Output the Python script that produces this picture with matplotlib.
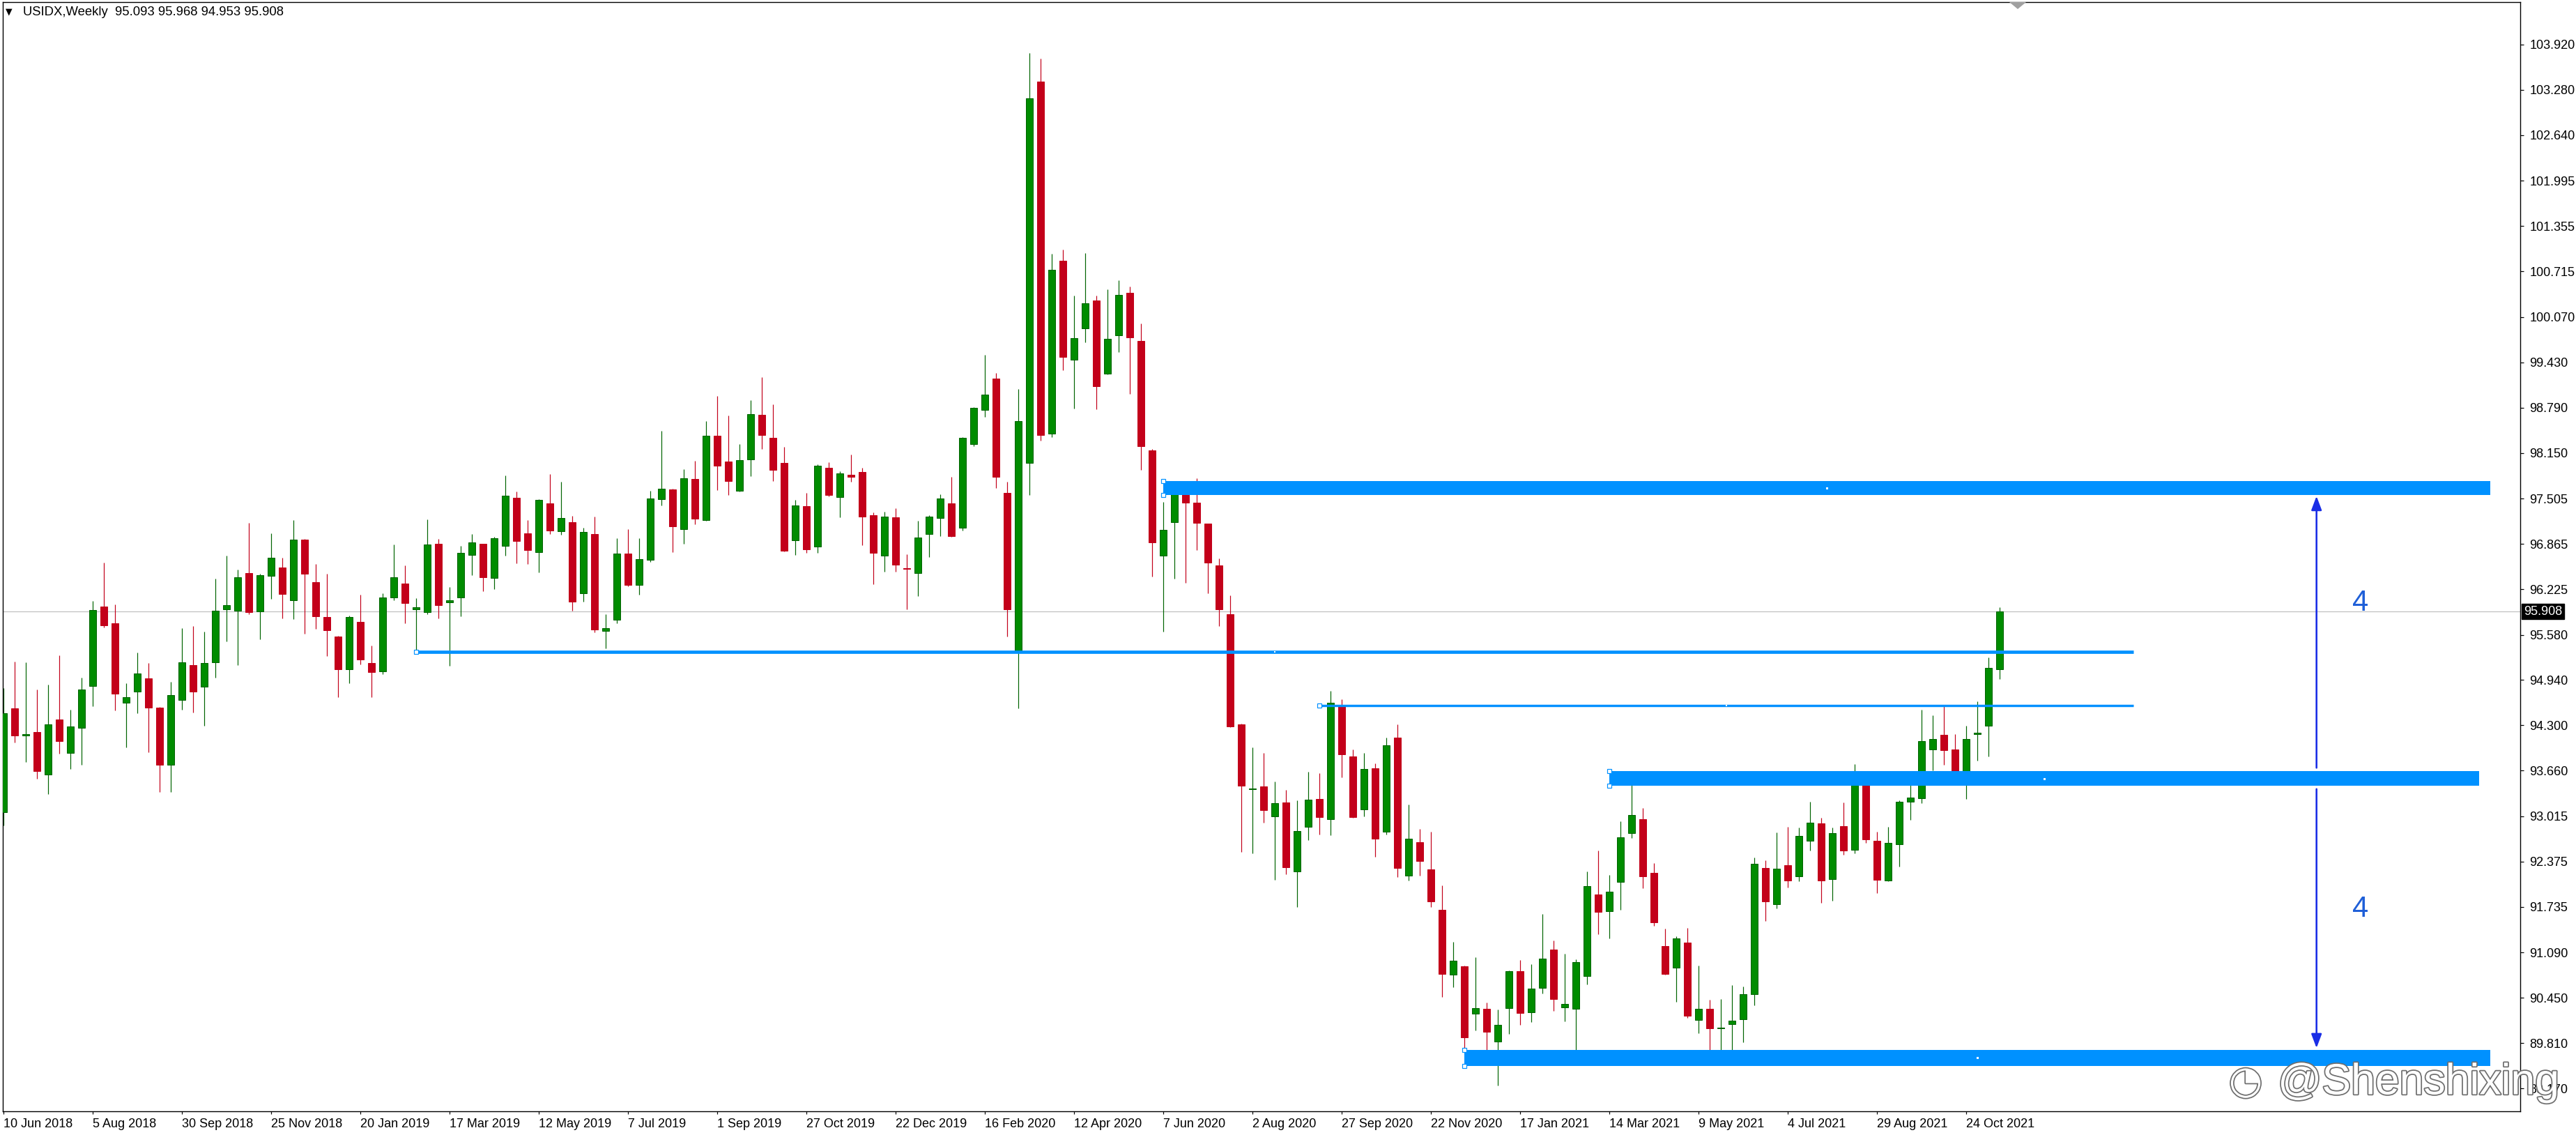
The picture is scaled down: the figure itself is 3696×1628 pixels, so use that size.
import matplotlib
matplotlib.use('Agg')
import matplotlib.pyplot as plt
from matplotlib.patches import Rectangle, Polygon
import matplotlib.patheffects as pe

W, H, DPI = 3696, 1628, 100
PT = 72.0 / DPI  # points per pixel

# ---------------- data (weekly OHLC, first bar = week of 10 Jun 2018) ----------------
opens = [93.076, 94.541, 94.160, 94.206, 93.602, 94.383, 93.914, 94.262, 94.853, 95.979,
         95.743, 94.616, 94.774, 94.965, 94.551, 93.746, 94.662, 95.152, 94.850, 95.194,
         95.937, 95.917, 96.452, 95.913, 96.416, 96.531, 96.071, 96.925, 96.324, 95.828,
         95.552, 95.089, 95.762, 95.181, 95.060, 96.104, 96.304, 95.936, 95.897, 96.866,
         96.035, 96.110, 96.711, 96.866, 96.386, 96.833, 97.516, 97.013, 96.751, 97.437,
         97.046, 97.171, 96.169, 97.003, 95.631, 95.788, 96.724, 96.288, 96.642, 97.499,
         97.631, 97.069, 97.782, 97.204, 98.389, 98.025, 97.611, 98.061, 98.685, 98.363,
         98.008, 96.918, 97.397, 96.829, 97.939, 97.529, 97.841, 97.880, 97.269, 96.695,
         97.240, 96.520, 96.448, 97.007, 97.227, 97.437, 97.095, 98.278, 98.754, 99.199,
         97.584, 95.359, 98.004, 103.398, 98.419, 100.863, 99.467, 99.906, 100.302, 99.266,
         99.808, 100.412, 99.735, 98.187, 96.694, 97.169, 97.645, 97.443, 97.151, 96.560,
         95.869, 94.315, 93.395, 93.439, 93.017, 93.210, 92.232, 92.863, 93.258, 92.975,
         94.572, 93.861, 93.108, 93.696, 92.793, 94.128, 92.179, 92.649, 92.264, 91.693,
         90.774, 90.897, 90.222, 90.294, 89.828, 90.307, 90.823, 90.242, 90.587, 91.128,
         90.311, 90.298, 90.761, 91.910, 91.677, 92.091, 92.780, 92.974, 92.216, 91.181,
         90.872, 91.230, 90.133, 90.291, 90.020, 90.076, 90.142, 90.505, 92.286, 91.777,
         92.324, 92.163, 92.672, 92.917, 92.130, 92.880, 92.545, 93.506, 92.668, 92.112,
         92.616, 93.219, 93.266, 93.963, 94.166, 93.963, 93.652, 94.180, 94.293, 95.093]
highs = [94.827, 95.201, 95.191, 94.807, 94.876, 95.290, 94.521, 94.974, 96.058, 96.600,
         96.009, 94.896, 95.329, 95.181, 94.561, 94.915, 95.674, 95.703, 95.625, 96.373,
         96.698, 96.501, 97.161, 96.439, 97.014, 96.669, 97.201, 96.930, 96.580, 96.442,
         95.562, 95.848, 96.147, 95.427, 96.163, 96.856, 96.560, 96.097, 97.211, 96.935,
         96.255, 96.836, 97.004, 96.870, 96.964, 97.831, 97.604, 97.200, 97.496, 97.851,
         97.742, 97.260, 97.092, 97.250, 95.870, 96.944, 97.072, 96.944, 97.614, 98.462,
         97.641, 97.920, 98.038, 98.599, 98.954, 98.678, 98.274, 98.895, 99.220, 98.836,
         98.235, 97.486, 97.585, 97.989, 98.018, 97.890, 98.127, 97.939, 97.309, 97.319,
         97.368, 96.718, 97.191, 97.269, 97.565, 97.811, 98.373, 98.796, 99.534, 99.278,
         97.742, 99.053, 103.801, 103.721, 100.966, 101.021, 100.375, 100.972, 100.375, 100.460,
         100.588, 100.503, 99.979, 98.205, 97.456, 97.693, 97.669, 97.791, 97.155, 96.657,
         96.137, 94.320, 93.989, 93.909, 93.503, 93.386, 93.242, 93.642, 93.626, 94.785,
         94.668, 93.957, 93.909, 93.760, 94.128, 94.315, 93.183, 92.836, 92.798, 92.040,
         91.239, 90.908, 91.024, 90.383, 90.285, 90.836, 90.984, 90.925, 91.634, 91.260,
         91.073, 90.994, 92.235, 92.531, 92.186, 92.945, 93.467, 93.132, 92.353, 91.427,
         91.319, 91.437, 90.905, 90.422, 90.431, 90.632, 90.608, 92.432, 92.394, 92.785,
         92.865, 92.856, 93.219, 92.993, 92.856, 93.209, 93.751, 93.510, 92.795, 92.865,
         93.242, 93.544, 94.519, 94.444, 94.566, 94.175, 94.293, 94.637, 95.259, 95.968]
lows = [92.890, 94.061, 93.786, 93.549, 93.332, 93.904, 93.687, 93.746, 94.574, 95.687,
        94.515, 93.992, 94.475, 93.924, 93.362, 93.362, 94.524, 94.485, 94.298, 94.978,
        95.490, 95.155, 95.874, 95.519, 96.091, 95.812, 95.802, 95.598, 95.667, 95.283,
        94.698, 94.899, 95.165, 94.698, 95.020, 96.071, 95.746, 95.335, 95.874, 95.812,
        95.145, 95.844, 96.426, 96.199, 96.225, 96.701, 96.593, 96.583, 96.465, 97.007,
        96.997, 95.923, 96.051, 95.618, 95.391, 95.746, 96.268, 96.150, 96.613, 97.411,
        96.751, 96.869, 97.145, 97.194, 97.627, 97.558, 97.601, 97.821, 98.209, 97.755,
        96.760, 96.711, 96.741, 96.741, 97.539, 97.243, 97.746, 96.849, 96.297, 96.475,
        96.475, 95.943, 96.130, 96.682, 96.977, 96.967, 97.056, 98.248, 98.662, 97.651,
        95.554, 94.542, 97.553, 98.327, 98.376, 99.315, 98.778, 99.711, 98.766, 99.260,
        99.571, 98.985, 97.907, 96.401, 95.627, 96.371, 96.310, 96.773, 96.170, 95.706,
        94.273, 92.515, 92.489, 92.921, 92.120, 92.200, 91.736, 92.676, 92.761, 92.745,
        93.562, 92.995, 93.017, 92.446, 92.761, 92.152, 92.104, 92.179, 91.736, 90.464,
        90.603, 89.706, 89.992, 89.539, 89.214, 89.943, 90.071, 90.110, 90.514, 90.268,
        90.120, 89.687, 90.642, 91.352, 91.289, 91.697, 92.711, 92.002, 91.467, 90.780,
        90.396, 90.170, 89.953, 89.628, 89.522, 89.647, 89.826, 90.340, 91.532, 91.716,
        92.013, 92.093, 92.526, 91.796, 91.824, 92.474, 92.488, 92.635, 91.932, 92.102,
        92.300, 92.969, 93.205, 93.666, 93.747, 93.478, 93.257, 93.798, 93.864, 94.953]
closes = [94.469, 94.160, 94.172, 93.657, 94.311, 94.081, 94.281, 94.804, 95.927, 95.717,
          94.751, 94.695, 95.030, 94.554, 93.746, 94.728, 95.191, 94.781, 95.178, 95.917,
          95.996, 96.390, 95.904, 96.419, 96.665, 96.160, 96.922, 96.445, 95.844, 95.647,
          95.096, 95.828, 95.234, 95.056, 96.104, 96.390, 96.032, 95.966, 96.853, 96.002,
          96.064, 96.734, 96.882, 96.393, 96.941, 97.542, 96.908, 96.780, 97.483, 97.056,
          97.227, 96.051, 97.030, 95.657, 95.670, 96.724, 96.288, 96.645, 97.503, 97.641,
          97.115, 97.788, 97.223, 98.389, 97.972, 97.755, 98.044, 98.695, 98.406, 97.913,
          96.770, 97.404, 96.790, 97.966, 97.555, 97.857, 97.815, 97.253, 96.741, 97.246,
          96.573, 96.512, 96.951, 97.246, 97.503, 96.977, 98.360, 98.783, 98.973, 97.809,
          95.938, 98.601, 103.161, 98.406, 100.735, 99.504, 99.772, 100.265, 99.089, 99.760,
          100.381, 99.784, 98.242, 96.883, 97.059, 97.620, 97.450, 97.157, 96.602, 95.944,
          94.289, 93.445, 93.410, 93.098, 93.204, 92.291, 92.809, 93.252, 93.007, 94.620,
          93.893, 93.001, 93.685, 92.702, 94.016, 92.280, 92.697, 92.387, 91.816, 90.790,
          90.972, 89.893, 90.300, 89.973, 90.068, 90.823, 90.239, 90.577, 91.000, 90.436,
          90.360, 90.951, 92.025, 91.667, 91.946, 92.715, 93.030, 92.170, 91.519, 90.790,
          91.286, 90.199, 90.291, 90.022, 90.030, 90.123, 90.505, 92.347, 91.815, 92.272,
          92.112, 92.733, 92.922, 92.112, 92.781, 92.526, 93.473, 92.691, 92.121, 92.644,
          93.224, 93.275, 94.081, 94.105, 93.954, 93.582, 94.105, 94.195, 95.108, 95.908]

x_tick_labels = ["10 Jun 2018", "5 Aug 2018", "30 Sep 2018", "25 Nov 2018", "20 Jan 2019",
                 "17 Mar 2019", "12 May 2019", "7 Jul 2019", "1 Sep 2019", "27 Oct 2019",
                 "22 Dec 2019", "16 Feb 2020", "12 Apr 2020", "7 Jun 2020", "2 Aug 2020",
                 "27 Sep 2020", "22 Nov 2020", "17 Jan 2021", "14 Mar 2021", "9 May 2021",
                 "4 Jul 2021", "29 Aug 2021", "24 Oct 2021"]
x_tick_every = 8
y_ticks = [103.920, 103.280, 102.640, 101.995, 101.355, 100.715, 100.070, 99.430, 98.790,
           98.150, 97.505, 96.865, 96.225, 95.580, 94.940, 94.300, 93.660, 93.015, 92.375,
           91.735, 91.090, 90.450, 89.810, 89.170]

header_text = "USIDX,Weekly  95.093 95.968 94.953 95.908"
last_price = 95.908

# drawn objects: rectangles (bar_from, bar_to, price_low, price_high)
zones = [(104, 223, 97.559, 97.754),
         (144, 222, 93.445, 93.654),
         (131, 223, 89.490, 89.717)]
# horizontal trend lines (bar_from, bar_to, price)
levels = [(37, 191, 95.335), (118, 191, 94.585)]
# measuring arrows (bar, price_from, price_to) and their labels (bar, price, text)
arrows = [(207.4, 93.700, 97.540), (207.4, 93.400, 89.740)]
arrow_labels = [(210.6, 96.03, "4"), (210.6, 91.70, "4")]
watermark = "@Shenshixing"

# ---------------- figure ----------------
fig = plt.figure(figsize=(W / DPI, H / DPI), dpi=DPI)
fig.patch.set_facecolor('white')
L_px, R_px, T_px, B_px = 4, 3616, 3, 1594
ax = fig.add_axes([L_px / W, 1 - B_px / H, (R_px - L_px) / W, (B_px - T_px) / H])
ax.set_facecolor('white')

bar_px = 16.0
x0 = (L_px - 5.3) / bar_px
x1 = (R_px - 5.3) / bar_px
ax.set_xlim(x0, x1)
px_per_unit = 101.5
y_top = 103.92 + (64 - T_px) / px_per_unit
y_bot = 103.92 - (B_px - 64) / px_per_unit
ax.set_ylim(y_bot, y_top)

GREEN = '#008C00'
GREEN_EDGE = '#006400'
RED = '#C3001A'

n = len(opens)
xs = list(range(n))
up = [c >= o for o, c in zip(opens, closes)]
for i in xs:
    col = GREEN_EDGE if up[i] else RED
    ax.vlines(i, lows[i], highs[i], color=col, linewidth=1.2 * PT, zorder=2)
bw = 10.0 / bar_px
for i in xs:
    lo = min(opens[i], closes[i])
    hgt = max(abs(closes[i] - opens[i]), 0.004)
    if up[i]:
        ax.bar(i, hgt, bottom=lo, width=bw, color=GREEN, edgecolor=GREEN_EDGE,
               linewidth=1.0 * PT, zorder=3)
    else:
        ax.bar(i, hgt, bottom=lo, width=bw, color=RED, edgecolor=RED,
               linewidth=1.0 * PT, zorder=3)

# current price line
ax.axhline(last_price, color='#C0C0C0', linewidth=1.2 * PT, zorder=1)

ZONE = '#0091FF'
for (a, b, lo, hi) in zones:
    ax.add_patch(Rectangle((a, lo), b - a, hi - lo, facecolor=ZONE, edgecolor='none', zorder=5))
    ax.plot([a, a], [lo, hi], ls='none', marker='s', ms=6 * PT, mfc='white', mec=ZONE,
            mew=1.2 * PT, zorder=6)
    ax.plot([(a + b) / 2], [(lo + hi) / 2], ls='none', marker='s', ms=3 * PT, mfc='white',
            mec='white', mew=0, zorder=6)
lw_levels = [4.7, 3.4]
for (a, b, p), lw in zip(levels, lw_levels):
    ax.plot([a, b], [p, p], color=ZONE, linewidth=lw * PT, solid_capstyle='butt', zorder=5)
    ax.plot([a], [p], ls='none', marker='s', ms=6 * PT, mfc='white', mec=ZONE,
            mew=1.2 * PT, zorder=6)
    ax.plot([(a + b) / 2], [p], ls='none', marker='s', ms=2.2 * PT, mfc='white',
            mec='white', mew=0, zorder=6)

ARROW = '#1A2EE6'
for (bx, p0, p1) in arrows:
    ax.annotate('', xy=(bx, p1), xytext=(bx, p0),
                arrowprops=dict(arrowstyle='-|>,head_length=1.2,head_width=0.45',
                                color=ARROW, lw=2.6 * PT, shrinkA=0, shrinkB=0),
                zorder=7)
for (bx, p, t) in arrow_labels:
    ax.text(bx, p, t, color='#1F5FD8', fontsize=30, family=['Liberation Sans', 'DejaVu Sans'],
            ha='left', va='center', zorder=7)

# axis styling
for s in ax.spines.values():
    s.set_color('black')
    s.set_linewidth(1.4 * PT)
ax.yaxis.tick_right()
ax.set_yticks(y_ticks)
ax.set_yticklabels([f"{v:.3f}" for v in y_ticks])
ax.set_xticks([i * x_tick_every for i in range(len(x_tick_labels))])
ax.set_xticklabels(x_tick_labels)
ax.tick_params(axis='y', direction='out', length=5 * PT, width=1.2 * PT, pad=6,
               labelsize=13, colors='black')
ax.tick_params(axis='x', direction='out', length=4 * PT, width=1.2 * PT, pad=4,
               labelsize=13, colors='black')
for lab in ax.get_xticklabels():
    lab.set_horizontalalignment('left')
    lab.set_family(['Liberation Sans', 'DejaVu Sans'])
for lab in ax.get_yticklabels():
    lab.set_family(['Liberation Sans', 'DejaVu Sans'])

# last price tag on the price scale
ax.text(1.0 + 5 / (R_px - L_px), last_price, f"{last_price:.3f}", transform=ax.get_yaxis_transform(),
        ha='left', va='center', color='white', fontsize=13,
        family=['Liberation Sans', 'DejaVu Sans'], zorder=10, clip_on=False,
        bbox=dict(boxstyle='square,pad=0.15', facecolor='black', edgecolor='black'))

# header
fig.text(8 / W, 1 - 17 / H, '\u25BC', fontsize=9, color='black', ha='left', va='center',
         family=['DejaVu Sans'])
fig.text(33 / W, 1 - 17 / H, header_text, fontsize=13.3, color='black', ha='left', va='center',
         family=['Liberation Sans', 'DejaVu Sans'])

# chart-shift marker
fig.patches.append(Polygon([[2883 / W, 1 - 3 / H], [2907 / W, 1 - 3 / H], [2895 / W, 1 - 13 / H]],
                           closed=True, transform=fig.transFigure, facecolor='#A0A0A0',
                           edgecolor='none', zorder=10))

# watermark
fig.text(3268 / W, 1 - 1553 / H, watermark, fontsize=45, color='white', ha='left', va='center',
         family=['Liberation Sans', 'DejaVu Sans'], zorder=20,
         path_effects=[pe.withStroke(linewidth=2.5, foreground='#6E6E6E')])
fig.text(3222 / W, 1 - 1553 / H, '\u25D4', fontsize=40, color='white', ha='center', va='center',
         family=['DejaVu Sans'], zorder=20,
         path_effects=[pe.withStroke(linewidth=2.5, foreground='#6E6E6E')])

fig.savefig('out.png', dpi=DPI, facecolor='white')
